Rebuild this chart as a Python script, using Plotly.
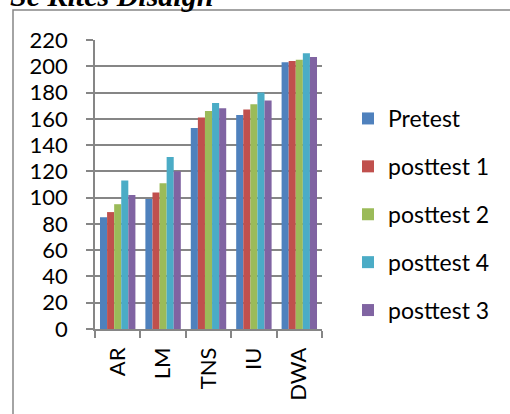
import plotly.graph_objects as go

categories = ["AR", "LM", "TNS", "IU", "DWA"]
series_names = ["Pretest", "posttest 1", "posttest 2", "posttest 4", "posttest 3"]
pretest = [85, 99, 153, 163, 203]
posttest1 = [89, 104, 161, 167, 204]
posttest2 = [95, 111, 166, 171, 205]
posttest4 = [113, 131, 172, 180, 210]
posttest3 = [102, 120, 168, 174, 207]
y_ticks = list(range(0, 221, 20))
title_text = "Se Kites Disaign"

colors = ["#4F81BD", "#C0504D", "#9BBB59", "#4BACC6", "#8064A2"]
series_values = [pretest, posttest1, posttest2, posttest4, posttest3]

W, H = 510, 414
L, R, T, B = 95, 322, 40, 329

fig = go.Figure()
for i, (name, vals) in enumerate(zip(series_names, series_values)):
    fig.add_trace(go.Bar(
        x=categories, y=vals, name=name,
        marker=dict(color=colors[i], line=dict(width=0)),
        legendgroup=name,
    ))

def px_x(p):
    return (p - L) / (R - L)

def px_y(p):
    return (B - p) / (B - T)

fig.update_layout(
    width=W, height=H,
    margin=dict(l=L, r=W - R, t=T, b=H - B, pad=0, autoexpand=False),
    paper_bgcolor="white", plot_bgcolor="white",
    font=dict(family="Lato, Open Sans, sans-serif", size=22, color="#000000"),
    barmode="group", bargap=0.22, bargroupgap=0,
    showlegend=True,
    legend=dict(
        x=px_x(348), y=px_y(97), xanchor="left", yanchor="top",
        xref="paper", yref="paper",
        traceorder="grouped", tracegroupgap=15,
        font=dict(size=23), bgcolor="rgba(0,0,0,0)",
    ),
    xaxis=dict(
        type="category", tickangle=-90, tickson="boundaries",
        ticks="outside", ticklen=7, tickcolor="#868686", tickwidth=1.5,
        showline=True, linecolor="#868686", linewidth=1.5,
        showgrid=False, ticklabelstandoff=8, automargin=False,
        tickfont=dict(size=22),
    ),
    yaxis=dict(
        range=[0, 220], tickvals=y_ticks,
        ticks="outside", ticklen=7, tickcolor="#868686", tickwidth=1.5,
        showline=True, linecolor="#868686", linewidth=1.5,
        showgrid=True, gridcolor="#868686", gridwidth=1.5,
        zeroline=False, ticklabelstandoff=14, automargin=False,
        tickfont=dict(size=22),
    ),
    shapes=[dict(
        type="rect", xref="paper", yref="paper",
        x0=px_x(13), x1=px_x(W + 20), y0=px_y(H + 20), y1=px_y(10),
        line=dict(color="#868686", width=1.5), fillcolor="rgba(0,0,0,0)",
        layer="below",
    )],
    annotations=[dict(
        text=title_text, xref="paper", yref="paper",
        x=px_x(9), y=px_y(13), xanchor="left", yanchor="bottom",
        showarrow=False, borderpad=0,
        font=dict(family="Liberation Serif, Times New Roman, serif", size=30,
                  color="#000000"),
    )],
)
fig.update_annotations(font=dict(style="italic", weight="bold"))

fig.write_html(
    "out.html",
    config={"displayModeBar": False},
    post_script="document.body.style.margin='0';document.body.style.overflow='hidden';",
)
